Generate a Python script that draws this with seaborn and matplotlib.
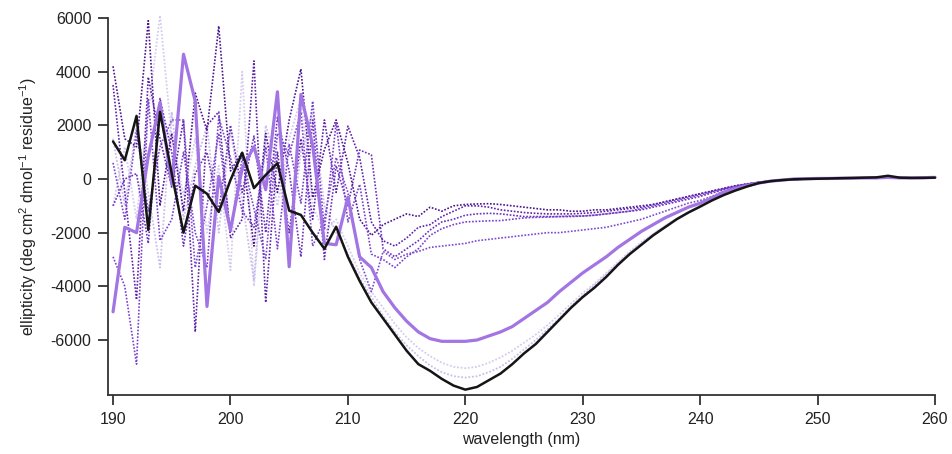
import numpy as np
import pandas as pd
import matplotlib
matplotlib.use("Agg")
import matplotlib.pyplot as plt
import seaborn as sns

wavelength = list(range(190, 261))

tail0 = [0, 10, 20, 30, 40, 50, 60, 120, 50, 40, 40, 50]  # 249..260

black = [1400, 700, 2350, -1900, 2500, 200, -2000, -250, -550, -1230,
         -40, 980, -340, 150, 590, -1180, -1340, -2000, -2600, -1780,
         -2900, -3800, -4600, -5200, -5800, -6400, -6900, -7150, -7450, -7700,
         -7850, -7750, -7500, -7250, -6900, -6500, -6150, -5700, -5250, -4800,
         -4400, -4050, -3650, -3200, -2800, -2450, -2100, -1800, -1500, -1250,
         -1030, -800, -600, -430, -280, -150, -80, -40, -10] + tail0

purple = [-4950, -1800, -2000, 850, 2850, -200, 4650, 2900, -4750, 100,
          -1900, 400, 1200, -400, 3250, -3270, 3150, 1250, -2400, -2450,
          -680, -2900, -3300, -4200, -4800, -5300, -5700, -5950, -6050, -6050,
          -6050, -6000, -5850, -5700, -5500, -5200, -4900, -4600, -4200, -3850,
          -3500, -3200, -2900, -2550, -2250, -1950, -1700, -1450, -1250, -1050,
          -900, -700, -500, -350, -250, -150, -80, -40, 0,
          10, 20, 20, 30, 30, 40, 40, 60, 40, 40, 50, 60]

dark1 = [4200, 1500, 1200, 5900, -1000, 1700, -1200, 3200, 1800, 5700,
         300, 1000, -2500, 1700, -500, 2200, 4100, -700, 1100, 2200,
         600, -1500, -2100, -1700, -1500, -1300, -1400, -1050, -1200, -1000,
         -950, -930, -920, -950, -1000, -1050, -1100, -1150, -1150, -1200,
         -1200, -1150, -1150, -1100, -1050, -1000, -950, -850, -750, -650,
         -550, -450, -350, -250, -180, -120, -80, -40, -20,
         0, 10, 20, 30, 30, 40, 40, 60, 40, 40, 50, 60]

dark2 = [3500, -500, -4500, 3800, 1500, -300, 2200, -5700, 2000, 2500,
         -2200, -1500, 4400, -4600, 1000, -2000, 1500, -1500, 2200, -500,
         1970, 800, -1600, -2300, -2500, -2200, -1800, -1700, -1400, -1200,
         -1000, -1000, -1050, -1150, -1200, -1250, -1280, -1300, -1300, -1300,
         -1280, -1250, -1200, -1150, -1100, -1050, -950, -850, -750, -650,
         -550, -450, -350, -260, -190, -130, -80, -40, -20,
         0, 10, 20, 30, 40, 40, 50, 80, 50, 40, 50, 70]

dark3 = [-1000, 0, 200, -2400, 3000, 1000, -2500, 200, 1000, -1200,
         2000, -500, 1600, -2000, 2300, 300, -2900, 2200, -3000, 500,
         -1000, 1080, 900, -2600, -2900, -2600, -2300, -1900, -1600, -1500,
         -1350, -1300, -1280, -1300, -1350, -1400, -1400, -1400, -1400, -1400,
         -1380, -1350, -1300, -1250, -1200, -1150, -1050, -950, -850, -750,
         -650, -520, -400, -300, -200, -130, -80, -40, -20,
         0, 10, 20, 20, 30, 40, 40, 60, 40, 40, 50, 60]

dark4 = [-2900, -4000, -6900, 3000, -2300, -1500, 1000, -2000, -3300, 2300,
         800, -1200, -1800, 1200, -2600, 1300, -900, 2900, -1900, 2100,
         -1600, -200, -2800, -3000, -3300, -2900, -2600, -2100, -1850, -1700,
         -1600, -1580, -1560, -1550, -1500, -1450, -1430, -1420, -1400, -1380,
         -1380, -1350, -1300, -1250, -1200, -1100, -1000, -900, -800, -700,
         -600, -480, -370, -270, -190, -120, -80, -40, -20,
         0, 10, 20, 30, 30, 40, 40, 70, 40, 40, 50, 60]

dark5 = [600, -1500, 1800, -1200, 1200, 2200, 2200, -3300, -1000, 1700,
         -2000, 800, -1100, -3000, 1700, 900, 2500, -2500, -1500, 800,
         -500, -3000, -4200, -2700, -3000, -2800, -2700, -2550, -2500, -2450,
         -2400, -2300, -2250, -2200, -2150, -2100, -2050, -2000, -2000, -1950,
         -1900, -1850, -1800, -1700, -1600, -1500, -1350, -1200, -1050, -900,
         -800, -650, -450, -300, -200, -120, -70, -40, -20,
         0, 10, 20, 20, 30, 40, 40, 60, 40, 40, 50, 60]

light1 = [-1000, 1200, -1500, 2500, 6100, 1500, -600, 1500, -2000, 500,
          -3400, 4000, -4000, 1500, -1000, 1500, 3000, -1000, -2000, -1500,
          -2500, -3500, -4200, -4800, -5400, -5900, -6300, -6600, -6850, -7000,
          -7050, -7000, -6850, -6650, -6400, -6100, -5800, -5450, -5050, -4650,
          -4250, -3900, -3500, -3100, -2700, -2350, -2050, -1750, -1480, -1230,
          -1000, -780, -580, -420, -280, -160, -90, -50, -20,
          0, 10, 20, 30, 40, 40, 50, 80, 50, 40, 50, 60]

light2 = [1500, -1000, 2000, -500, -3300, 2500, -1500, 500, 2000, -2000,
          1800, -800, -3800, 2000, 500, -2500, 1000, 2500, -1000, -2000,
          -2800, -3700, -4400, -5100, -5700, -6200, -6600, -6950, -7200, -7350,
          -7400, -7350, -7200, -7000, -6700, -6350, -6000, -5600, -5200, -4750,
          -4350, -3950, -3550, -3150, -2750, -2400, -2050, -1750, -1480, -1230,
          -1000, -780, -580, -420, -280, -160, -90, -50, -20,
          0, 10, 20, 30, 40, 40, 50, 80, 50, 40, 50, 60]

xticks = [190, 200, 210, 220, 230, 240, 250, 260]
yticks = [-6000, -4000, -2000, 0, 2000, 4000, 6000]

sns.set_style("ticks")
plt.rcParams["font.family"] = ["Liberation Sans", "DejaVu Sans"]
plt.rcParams["mathtext.default"] = "regular"

fig = plt.figure(figsize=(9.52, 4.54), dpi=100)
ax = fig.add_axes([108 / 952, 1 - 395 / 454, (935 - 108) / 952, (395 - 18) / 454])

dot = (0, (1, 1))
styles = [
    (light1, "#d6cbef", 1.3, dot),
    (light2, "#cbbdeb", 1.3, dot),
    (dark1, "#4b148f", 1.2, dot),
    (dark2, "#5d22aa", 1.2, dot),
    (dark3, "#6a2fbf", 1.2, dot),
    (dark4, "#7a3fd0", 1.2, dot),
    (dark5, "#7e48d2", 1.2, dot),
    (purple, "#a275e3", 2.3, "-"),
    (black, "#151515", 1.8, "-"),
]
for vals, col, lw, ls in styles:
    df = pd.DataFrame({"wavelength": wavelength, "ellipticity": vals})
    sns.lineplot(data=df, x="wavelength", y="ellipticity", ax=ax, color=col,
                 linewidth=lw, linestyle=ls, estimator=None, sort=False)

ax.set_xlim(189.57, 260)
ax.set_ylim(-8050, 6000)
ax.set_xticks(xticks)
ax.set_yticks(yticks)
ax.set_xticklabels([str(t) for t in xticks])
ax.set_yticklabels([str(t) for t in yticks])
for line in ax.get_lines():
    line.set_clip_on(False)

for s in ["top", "right"]:
    ax.spines[s].set_visible(False)
for s in ["left", "bottom"]:
    ax.spines[s].set_color("#333333")
    ax.spines[s].set_linewidth(1.3)
ax.tick_params(axis="both", direction="out", length=7, width=1.3,
               color="#333333", labelsize=11.5, labelcolor="#222222", pad=5)
ax.set_xlabel("wavelength (nm)", fontsize=11.5, color="#222222", labelpad=4)
ax.set_ylabel("ellipticity (deg cm$^{2}$ dmol$^{-1}$ residue$^{-1}$)",
              fontsize=11.5, color="#222222", labelpad=8)

fig.savefig("out.png", dpi=100, facecolor="white")
